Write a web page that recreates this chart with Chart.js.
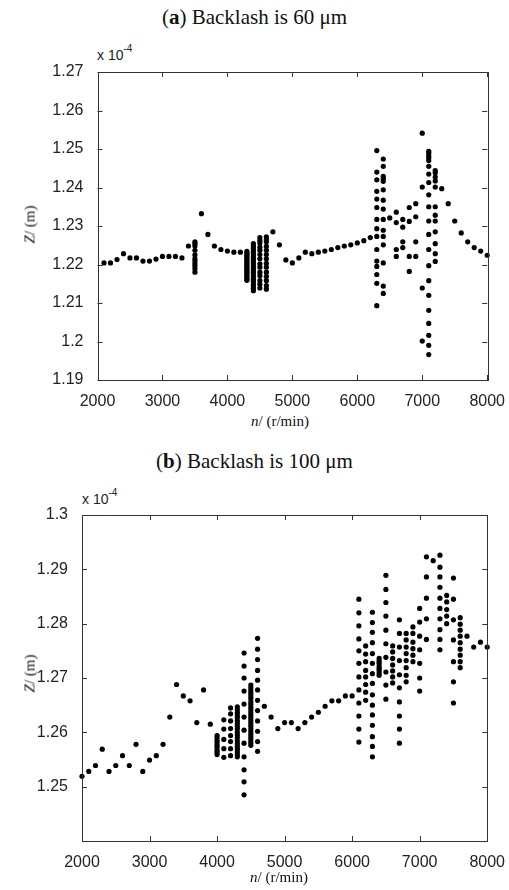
<!DOCTYPE html>
<html>
<head>
<meta charset="utf-8">
<script src="https://cdn.jsdelivr.net/npm/chart.js@4.4.1/dist/chart.umd.min.js"></script>
<style>
  body { margin: 0; background: #fff; }
  #page { position: relative; width: 509px; height: 890px; overflow: hidden; }
  canvas { position: absolute; left: 0; }
  .title { position: absolute; left: 0; width: 509px; text-align: center; font: 21px "Liberation Serif", serif; color: #111; }
  .xlab { position: absolute; width: 200px; text-align: center; font: 15px "Liberation Serif", serif; color: #111; }
  .ylab { position: absolute; width: 100px; text-align: center; font: 15px "Liberation Serif", serif; color: #111; transform: rotate(-90deg); }
  .expo { position: absolute; font: 14px "Liberation Sans", Arial, sans-serif; color: #222; }
  .expo sup { font-size: 10px; position: relative; top: -2px; }
</style>
</head>
<body>
<div id="page">
  <div class="title" style="top:5px">(<b>a</b>) Backlash is 60 μm</div>
  <div class="expo" style="left:97px; top:45px">x 10<sup>-4</sup></div>
  <canvas id="chartA" width="509" height="410" style="top:0"></canvas>
  <div class="ylab" style="left:-20px; top:216px"><i>Z</i>/ (m)</div>
  <div class="xlab" style="left:180px; top:413px"><i>n</i>/ (r/min)</div>

  <div class="title" style="top:449px">(<b>b</b>) Backlash is 100 μm</div>
  <div class="expo" style="left:82px; top:489px">x 10<sup>-4</sup></div>
  <canvas id="chartB" width="509" height="430" style="top:440px"></canvas>
  <div class="ylab" style="left:-20px; top:665px"><i>Z</i>/ (m)</div>
  <div class="xlab" style="left:179px; top:869px"><i>n</i>/ (r/min)</div>
</div>
<script>
// tick values (z in units of 1e-4 m)
const xTicks = [2000, 3000, 4000, 5000, 6000, 7000, 8000];
const yTicksA = [1.19, 1.2, 1.21, 1.22, 1.23, 1.24, 1.25, 1.26, 1.27];
const yTicksB = [1.25, 1.26, 1.27, 1.28, 1.29, 1.3];

// --- (a) backlash 60 um: single points along the trend ---
const rpmA = [2100, 2200, 2300, 2400, 2500, 2600, 2700, 2800, 2900, 3000, 3100, 3200, 3300, 3400,
  3600, 3700, 3800, 3900, 4000, 4100, 4200, 4700, 4800, 4900, 5000, 5100, 5200, 5300, 5400,
  5500, 5600, 5700, 5800, 5900, 6000, 6100, 6200, 6500, 7300, 7400, 7500, 7600, 7700, 7800, 7900, 8000];
const zA = [1.2204, 1.2204, 1.2213, 1.2228, 1.2217, 1.2217, 1.2209, 1.2209, 1.2214, 1.2221, 1.2221, 1.2221, 1.2217, 1.2248,
  1.2332, 1.2278, 1.2248, 1.2239, 1.2235, 1.2232, 1.2232, 1.2285, 1.2251, 1.2212, 1.2204, 1.2217, 1.2232, 1.2228, 1.2232,
  1.2235, 1.2239, 1.2244, 1.2248, 1.2251, 1.2256, 1.2262, 1.2270, 1.2321, 1.2397, 1.2358, 1.2313, 1.2282, 1.2259, 1.2244, 1.2235, 1.2224];

// (a) speeds with several values
const a3500 = [1.2259, 1.2254, 1.2248, 1.2237, 1.2225, 1.2215, 1.2209, 1.2202, 1.2196, 1.2189, 1.2180];
const a4300 = [1.2234, 1.2230, 1.2226, 1.2222, 1.2218, 1.2214, 1.2210, 1.2206, 1.2202, 1.2198, 1.2194,
  1.2190, 1.2186, 1.2182, 1.2178, 1.2174, 1.2170, 1.2166, 1.2162, 1.2159];
const a4400 = [1.2254, 1.2249, 1.2243, 1.2238, 1.2232, 1.2226, 1.2220, 1.2214, 1.2209, 1.2203, 1.2197,
  1.2191, 1.2186, 1.2180, 1.2174, 1.2168, 1.2162, 1.2156, 1.2150, 1.2144, 1.2138, 1.2132];
const a4500 = [1.2270, 1.2263, 1.2256, 1.2245, 1.2237, 1.2226, 1.2215, 1.2202, 1.2193, 1.2180, 1.2171, 1.2158, 1.2149, 1.2139];
const a4600 = [1.2272, 1.2265, 1.2259, 1.2247, 1.2237, 1.2226, 1.2215, 1.2203, 1.2193, 1.2180, 1.2169, 1.2158, 1.2145, 1.2136];
const a6300 = [1.2496, 1.2440, 1.2420, 1.2390, 1.2370, 1.2348, 1.2317, 1.2293, 1.2273, 1.2239, 1.2209, 1.2195, 1.2174, 1.2151, 1.2093];
const a6400 = [1.2474, 1.2455, 1.2429, 1.2423, 1.2416, 1.2394, 1.2367, 1.2344, 1.2317, 1.2289, 1.2273, 1.2251, 1.2204, 1.2144, 1.2125];
const a6600 = [1.2336, 1.2309, 1.2239, 1.2221];
const a6700 = [1.2317, 1.2297, 1.2259, 1.2244];
const a6800 = [1.2348, 1.2312, 1.2221, 1.2182];
const a6900 = [1.2358, 1.2324, 1.2259, 1.2221];
const a7000 = [1.2541, 1.2401, 1.2139, 1.2001];
const a7100 = [1.2494, 1.2490, 1.2483, 1.2477, 1.2470, 1.2455, 1.2435, 1.2413, 1.2381, 1.2350, 1.2313,
  1.2278, 1.2239, 1.2197, 1.2158, 1.2120, 1.2081, 1.2047, 1.2016, 1.1990, 1.1966];
const a7200 = [1.2444, 1.2438, 1.2427, 1.2417, 1.2401, 1.2350, 1.2328, 1.2313, 1.2285, 1.2254, 1.2228, 1.2208];
const colRpmA = [3500, 4300, 4400, 4500, 4600, 6300, 6400, 6600, 6700, 6800, 6900, 7000, 7100, 7200];
const colZA = [a3500, a4300, a4400, a4500, a4600, a6300, a6400, a6600, a6700, a6800, a6900, a7000, a7100, a7200];

// --- (b) backlash 100 um ---
const rpmB = [2000, 2100, 2200, 2300, 2400, 2500, 2600, 2700, 2800, 2900, 3000, 3100, 3200, 3300, 3400,
  3500, 3600, 3700, 3800, 3900, 4700, 4800, 4900, 5000, 5100, 5200, 5300, 5400, 5500, 5600, 5700,
  5800, 5900, 6000, 7200, 7700, 7800, 7900, 8000];
const zB = [1.2519, 1.2528, 1.2539, 1.2569, 1.2528, 1.2539, 1.2557, 1.2539, 1.2578, 1.2528, 1.2549, 1.2557, 1.2578, 1.2628, 1.2688,
  1.2667, 1.2658, 1.2618, 1.2678, 1.2615, 1.2648, 1.2628, 1.2607, 1.2618, 1.2618, 1.2607, 1.2618, 1.2628, 1.2637, 1.2648, 1.2658,
  1.2658, 1.2667, 1.2667, 1.2916, 1.2777, 1.2757, 1.2766, 1.2757];

const b4000 = [1.2594, 1.2590, 1.2585, 1.2581, 1.2576, 1.2572, 1.2567, 1.2563, 1.2559];
const b4100 = [1.2623, 1.2606, 1.2587, 1.2570, 1.2554];
const b4200 = [1.2645, 1.2634, 1.2621, 1.2607, 1.2594, 1.2583, 1.2570, 1.2557];
const b4300 = [1.2647, 1.2642, 1.2637, 1.2632, 1.2627, 1.2621, 1.2616, 1.2611, 1.2606, 1.2600,
  1.2595, 1.2590, 1.2584, 1.2579, 1.2574, 1.2569, 1.2564, 1.2559, 1.2555];
const b4400 = [1.2746, 1.2722, 1.2700, 1.2676, 1.2652, 1.2628, 1.2604, 1.2580, 1.2555, 1.2531, 1.2509, 1.2485];
const b4500 = [1.2687, 1.2682, 1.2677, 1.2672, 1.2667, 1.2662, 1.2656, 1.2651, 1.2646, 1.2641, 1.2636, 1.2631,
  1.2626, 1.2621, 1.2616, 1.2611, 1.2606, 1.2601, 1.2596, 1.2591, 1.2586, 1.2581, 1.2576];
const b4600 = [1.2773, 1.2753, 1.2734, 1.2714, 1.2696, 1.2678, 1.2659, 1.2640, 1.2621, 1.2602, 1.2583, 1.2565];
const b6100 = [1.2845, 1.2820, 1.2796, 1.2772, 1.2750, 1.2727, 1.2702, 1.2678, 1.2654, 1.2630, 1.2606, 1.2582];
const b6200 = [1.2759, 1.2744, 1.2730, 1.2714, 1.2702, 1.2688, 1.2674, 1.2659];
const b6300 = [1.2821, 1.2802, 1.2784, 1.2765, 1.2745, 1.2727, 1.2708, 1.2690, 1.2669, 1.2650, 1.2632, 1.2613, 1.2592, 1.2574, 1.2555];
const b6400 = [1.2736, 1.2731, 1.2727, 1.2722, 1.2718, 1.2714, 1.2709, 1.2705];
const b6500 = [1.2889, 1.2863, 1.2839, 1.2814, 1.2788, 1.2763, 1.2738, 1.2711, 1.2687, 1.2661];
const b6600 = [1.2759, 1.2748, 1.2736, 1.2724, 1.2713, 1.2702, 1.2691];
const b6700 = [1.2807, 1.2782, 1.2757, 1.2732, 1.2706, 1.2682, 1.2656, 1.2630, 1.2606, 1.2580];
const b6800 = [1.2782, 1.2770, 1.2757, 1.2745, 1.2732, 1.2719, 1.2705, 1.2693];
const b6900 = [1.2794, 1.2782, 1.2766, 1.2754, 1.2742, 1.2730];
const b7000 = [1.2828, 1.2803, 1.2777, 1.2752, 1.2727, 1.2700, 1.2676];
const b7100 = [1.2923, 1.2886, 1.2847, 1.2809, 1.2771];
const b7300 = [1.2926, 1.2904, 1.2886, 1.2867, 1.2847, 1.2828, 1.2809, 1.2789, 1.2771, 1.2752];
const b7400 = [1.2852, 1.2840, 1.2826, 1.2814, 1.2800];
const b7500 = [1.2884, 1.2845, 1.2807, 1.2770, 1.2730, 1.2693, 1.2654];
const b7600 = [1.2811, 1.2799, 1.2788, 1.2777, 1.2765, 1.2753, 1.2742, 1.2730, 1.2719];
const colRpmB = [4000, 4100, 4200, 4300, 4400, 4500, 4600, 6100, 6200, 6300, 6400, 6500, 6600, 6700,
  6800, 6900, 7000, 7100, 7300, 7400, 7500, 7600];
const colZB = [b4000, b4100, b4200, b4300, b4400, b4500, b4600, b6100, b6200, b6300, b6400, b6500, b6600, b6700,
  b6800, b6900, b7000, b7100, b7300, b7400, b7500, b7600];

// merge single points and columns into one point list
function buildPoints(rpm, z, colRpm, colZ) {
  const pts = rpm.map((r, i) => ({ x: r, y: z[i] }));
  colRpm.forEach((r, i) => {
    colZ[i].forEach(v => pts.push({ x: r, y: v }));
  });
  return pts;
}

// matlab style box with inward ticks on all four sides
const boxTicks = {
  id: 'boxTicks',
  afterDraw(chart) {
    const { ctx, chartArea: a, scales } = chart;
    ctx.save();
    ctx.strokeStyle = '#333';
    ctx.lineWidth = 1;
    ctx.strokeRect(Math.round(a.left) + 0.5, Math.round(a.top) + 0.5,
      Math.round(a.right - a.left), Math.round(a.bottom - a.top));
    ctx.beginPath();
    scales.x.ticks.forEach(t => {
      const px = Math.round(scales.x.getPixelForValue(t.value)) + 0.5;
      ctx.moveTo(px, a.bottom); ctx.lineTo(px, a.bottom - 5);
      ctx.moveTo(px, a.top); ctx.lineTo(px, a.top + 5);
    });
    scales.y.ticks.forEach(t => {
      const py = Math.round(scales.y.getPixelForValue(t.value)) + 0.5;
      ctx.moveTo(a.left, py); ctx.lineTo(a.left + 5, py);
      ctx.moveTo(a.right, py); ctx.lineTo(a.right - 5, py);
    });
    ctx.stroke();
    ctx.restore();
  }
};

const tickFont = { family: '"Liberation Sans", Arial, sans-serif', size: 16 };

function makeChart(id, points, yMin, yMax, yTicks, yWidth, padTop, xHeight) {
  return new Chart(document.getElementById(id), {
    type: 'scatter',
    data: {
      datasets: [{
        data: points,
        backgroundColor: '#000',
        borderColor: '#000',
        pointRadius: 2.6,
        pointHoverRadius: 2.6,
        borderWidth: 0,
        clip: false
      }]
    },
    options: {
      responsive: false,
      animation: false,
      events: [],
      layout: { padding: { top: padTop, right: 20, left: 0, bottom: 0 } },
      plugins: { legend: { display: false }, tooltip: { enabled: false } },
      scales: {
        x: {
          type: 'linear', min: 2000, max: 8000,
          grid: { display: false }, border: { display: false },
          afterBuildTicks: s => { s.ticks = xTicks.map(v => ({ value: v })); },
          afterFit: s => { s.height = xHeight; },
          ticks: { color: '#222', font: tickFont, padding: 4, maxRotation: 0, callback: v => String(v) }
        },
        y: {
          type: 'linear', min: yMin, max: yMax,
          grid: { display: false }, border: { display: false },
          afterBuildTicks: s => { s.ticks = yTicks.map(v => ({ value: v })); },
          afterFit: s => { s.width = yWidth; },
          ticks: { color: '#222', font: tickFont, padding: 6, callback: v => String(Number(v.toFixed(2))) }
        }
      }
    },
    plugins: [boxTicks]
  });
}

makeChart('chartA', buildPoints(rpmA, zA, colRpmA, colZA), 1.19, 1.27, yTicksA, 97.5, 72, 30);
makeChart('chartB', buildPoints(rpmB, zB, colRpmB, colZB), 1.24, 1.3, yTicksB, 82, 75, 29);
</script>
</body>
</html>
